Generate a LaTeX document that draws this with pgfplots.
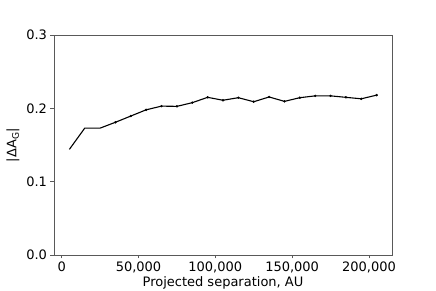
\documentclass[border=0pt]{standalone}
\usepackage{fontspec}
\setmainfont{DejaVu Sans}
\usepackage{pgfplots}
\pgfplotsset{compat=1.18}
\begin{document}
\fontsize{13pt}{15pt}\selectfont
\begin{tikzpicture}
\useasboundingbox (-54pt,-36pt) rectangle (382pt,255pt);
\begin{axis}[
  scale only axis, width=338pt, height=220pt,
  at={(0,0)}, anchor=south west,
  xmin=-5000, xmax=215000, ymin=0, ymax=0.3,
  axis line style={black!65, line width=0.7pt},
  tick style={black!65, line width=0.7pt},
  tick align=outside, tickwidth=3.5pt,
  xtick pos=bottom, ytick pos=left,
  xtick={0,50000,100000,150000,200000},
  xticklabels={0,{50,000},{100,000},{150,000},{200,000}},
  ytick={0,0.1,0.2,0.3},
  yticklabels={0.0,0.1,0.2,0.3},
  scaled x ticks=false, scaled y ticks=false,
  ticklabel style={font=\fontsize{13pt}{15pt}\selectfont},
  label style={font=\fontsize{13pt}{15pt}\selectfont},
  xticklabel style={yshift=1pt},
  yticklabel style={xshift=1pt},
  xlabel={Projected separation, AU},
  ylabel={|ΔA\textsubscript{G}|},
  xlabel style={yshift=5pt},
  ylabel style={yshift=-2pt},
]
\addplot[black, line width=1.1pt] coordinates {
(5000,0.144) (15000,0.173) (25000,0.173) (35000,0.181) (45000,0.1895)
(55000,0.198) (65000,0.203) (75000,0.2027) (85000,0.2077) (95000,0.215)
(105000,0.211) (115000,0.2145) (125000,0.209) (135000,0.2155) (145000,0.2095)
(155000,0.2145) (165000,0.217) (175000,0.217) (185000,0.215) (195000,0.213)
(205000,0.218)
};
\addplot[black, only marks, mark=*, mark size=1pt] coordinates {
(35000,0.181) (45000,0.1895)
(55000,0.198) (65000,0.203) (75000,0.2027) (85000,0.2077) (95000,0.215)
(105000,0.211) (115000,0.2145) (125000,0.209) (135000,0.2155) (145000,0.2095)
(155000,0.2145) (165000,0.217) (175000,0.217) (185000,0.215) (195000,0.213)
(205000,0.218)
};
\end{axis}
\end{tikzpicture}
\end{document}
